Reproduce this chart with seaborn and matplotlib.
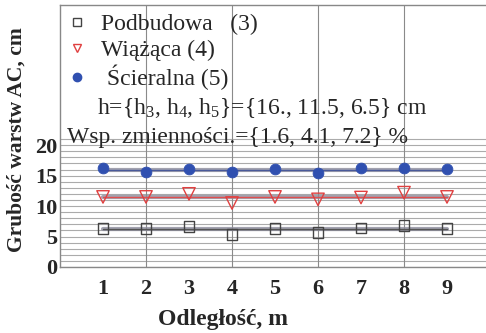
import numpy as np
import pandas as pd
import matplotlib
matplotlib.use("Agg")
import matplotlib.pyplot as plt
import seaborn as sns
from matplotlib.lines import Line2D

# ---- data ----
distance = [1, 2, 3, 4, 5, 6, 7, 8, 9]
podbudowa = [6.3, 6.3, 6.7, 5.3, 6.3, 5.6, 6.4, 6.8, 6.3]
wiazaca = [11.5, 11.5, 12.0, 10.5, 11.5, 11.1, 11.4, 12.2, 11.5]
scieralna = [16.2, 15.6, 16.1, 15.6, 16.1, 15.5, 16.2, 16.2, 16.1]
series_names = ["Podbudowa   (3)", "Wiążąca (4)", " Ścieralna (5)"]
x_ticks = [1, 2, 3, 4, 5, 6, 7, 8, 9]
y_ticks = [0, 5, 10, 15, 20]
info_h = r"h={h$_3$, h$_4$, h$_5$}={16., 11.5, 6.5} cm"
info_cv = "Wsp. zmienności.={1.6, 4.1, 7.2} %"

sns.set_theme(style="white")
plt.rcParams['font.family'] = ['Liberation Serif', 'DejaVu Serif']
plt.rcParams['mathtext.fontset'] = 'custom'
plt.rcParams['mathtext.rm'] = 'Liberation Serif'
plt.rcParams['mathtext.it'] = 'Liberation Serif'

fig = plt.figure(figsize=(4.86, 3.33), dpi=100)
ax = fig.add_axes([60/486, (333-267)/333, 430/486, (267-5)/333])

# grid
for gy in range(0, 22):
    ax.axhline(gy, color="#ababab", lw=0.8, zorder=0)
for gx in [2, 4, 6, 8]:
    ax.axvline(gx, color="#8a8a8a", lw=0.8, zorder=0)

df = pd.DataFrame({"x": distance, "p": podbudowa, "w": wiazaca, "s": scieralna})

# mean lines
for col, c in [("p", "#555555"), ("w", "#e05050"), ("s", "#4a5a9a")]:
    m = float(np.mean(df[col]))
    mdf = pd.DataFrame({"x": distance, "y": [m] * len(distance)})
    sns.lineplot(data=mdf, x="x", y="y", ax=ax, color="#8c8c9c", lw=3.0, alpha=0.8, zorder=1)
    sns.lineplot(data=mdf, x="x", y="y", ax=ax, color=c, lw=1.0, zorder=2)

sns.scatterplot(data=df, x="x", y="p", ax=ax, marker="s", s=60, facecolor="none",
                edgecolor="#444444", linewidth=1.0, zorder=3)
sns.scatterplot(data=df, x="x", y="w", ax=ax, marker="v", s=80, facecolor="none",
                edgecolor="#e04040", linewidth=1.0, zorder=3)
sns.scatterplot(data=df, x="x", y="s", ax=ax, marker="o", s=60, color="#3050b0",
                edgecolor="#3050b0", zorder=3)

ax.set_xlim(0, 10)
ax.set_ylim(0, 43)
ax.set_xticks(x_ticks)
ax.set_yticks(y_ticks)
ax.set_xticklabels([str(v) for v in x_ticks], fontsize=16, fontweight="bold")
ax.set_yticklabels([str(v) for v in y_ticks], fontsize=16, fontweight="bold")
ax.tick_params(axis="x", direction="in", length=3, width=1, color="#444444", pad=9)
ax.tick_params(axis="y", direction="in", length=3, width=1, color="#444444", pad=2)
ax.set_xlabel("Odległość, m", fontsize=17, fontweight="bold")
ax.xaxis.set_label_coords(0.38, -0.16)
ax.set_ylabel("Grubość warstw AC, cm", fontsize=15.5, fontweight="bold")
ax.yaxis.set_label_coords(-0.077, 0.485)
for s in ["left", "top", "bottom"]:
    ax.spines[s].set_color("#888888")
    ax.spines[s].set_linewidth(1.0)
ax.spines["right"].set_visible(False)

handles = [
    Line2D([], [], marker="s", ls="none", markersize=6, markerfacecolor="none",
           markeredgecolor="#444444"),
    Line2D([], [], marker="v", ls="none", markersize=6, markerfacecolor="none",
           markeredgecolor="#e04040"),
    Line2D([], [], marker="o", ls="none", markersize=6, color="#3050b0"),
]
ax.legend(handles, series_names, loc="upper left", bbox_to_anchor=(-0.021, 1.02),
          frameon=False, fontsize=17, handletextpad=0.5, labelspacing=0.17,
          handlelength=1.0, borderaxespad=0.2)
ax.text(0.086, 0.607, info_h, transform=ax.transAxes, fontsize=17, va="center")
ax.text(0.016, 0.496, info_cv, transform=ax.transAxes, fontsize=17, va="center")

fig.savefig("out.png", dpi=100)
